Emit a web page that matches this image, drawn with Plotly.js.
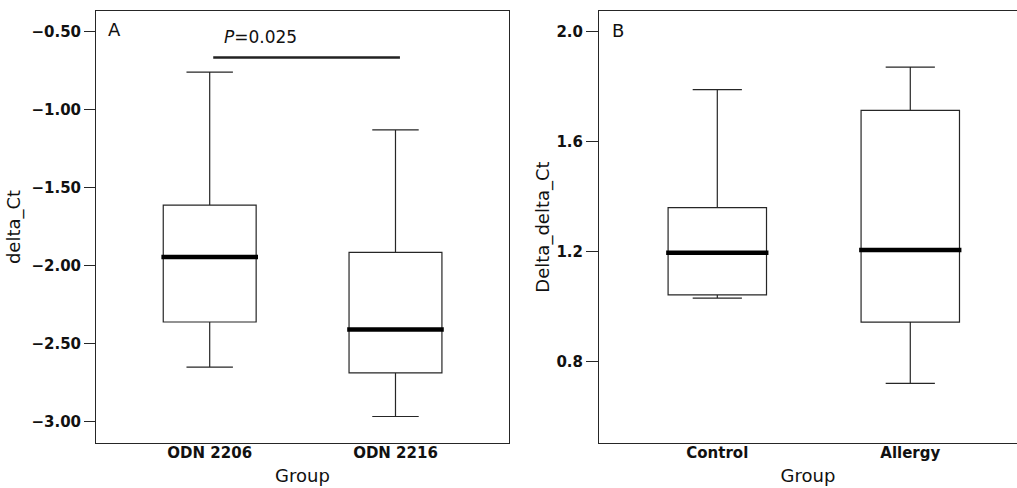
<!DOCTYPE html>
<html>
<head>
<meta charset="utf-8">
<script src="https://cdn.plot.ly/plotly-3.0.1.min.js"></script>
<style>html,body{margin:0;padding:0;background:#fff;overflow:hidden}#chart{width:1017px;height:488px}</style>
</head>
<body>
<div id="chart"></div>
<script>
// Panel A data
const groupsA = ['ODN 2206', 'ODN 2216'];
const upperA = [-0.760, -1.131];
const q3A = [-1.613, -1.916];
const medianA = [-1.946, -2.411];
const q1A = [-2.363, -2.689];
const lowerA = [-2.652, -2.969];
const yTicksA = [-3.0, -2.5, -2.0, -1.5, -1.0, -0.5];
const yTickTextA = ['\u22123.00', '\u22122.50', '\u22122.00', '\u22121.50', '\u22121.00', '\u22120.50'];
const pText = '<i>P</i>=0.025';

// Panel B data
const groupsB = ['Control', 'Allergy'];
const upperB = [1.790, 1.872];
const q3B = [1.361, 1.715];
const medianB = [1.197, 1.207];
const q1B = [1.044, 0.945];
const lowerB = [1.032, 0.722];
const yTicksB = [0.8, 1.2, 1.6, 2.0];
const yTickTextB = ['0.8', '1.2', '1.6', '2.0'];

const W = 1017, H = 488;
const boxW = 0.5;
const lineCol = '#262626';
const tickFont = {family: 'DejaVu Sans', size: 15, weight: 'bold', color: '#111'};
const titleFont = {family: 'DejaVu Sans', size: 18, color: '#111'};

const posA = groupsA.map((g, i) => i);
const posB = groupsB.map((g, i) => i);

function boxTrace(pos, q1, med, q3, lo, hi, xa, ya, w) {
  return {
    type: 'box', x: pos, q1: q1, median: med, q3: q3,
    lowerfence: lo, upperfence: hi,
    width: w, whiskerwidth: 0.5, boxpoints: false,
    fillcolor: '#ffffff', line: {color: lineCol, width: 1.2},
    xaxis: xa, yaxis: ya, hoverinfo: 'skip'
  };
}
function medianTraces(pos, med, xa, ya, w) {
  return pos.map((p, i) => ({
    type: 'scatter', mode: 'lines',
    x: [p - w / 2 - 0.01, p + w / 2 + 0.01], y: [med[i], med[i]],
    line: {color: '#000', width: 4.5}, xaxis: xa, yaxis: ya, hoverinfo: 'skip'
  }));
}

const data = [
  boxTrace(posA, q1A, medianA, q3A, lowerA, upperA, 'x', 'y', boxW),
  boxTrace(posB, q1B, medianB, q3B, lowerB, upperB, 'x2', 'y2', 0.51),
  ...medianTraces(posA, medianA, 'x', 'y', boxW),
  ...medianTraces(posB, medianB, 'x2', 'y2', 0.51)
];

const sigY = -0.666, sigX0 = 0.019, sigX1 = 1.024;

const layout = {
  width: W, height: H,
  margin: {l: 0, r: 0, t: 11, b: 45},
  paper_bgcolor: '#fff', plot_bgcolor: '#fff',
  showlegend: false,
  xaxis: {
    domain: [96 / W, 509 / W], range: [-0.612, 1.611],
    tickvals: posA, ticktext: groupsA, ticks: '', ticklabelstandoff: -4,
    showgrid: false, zeroline: false,
    showline: true, linecolor: lineCol, linewidth: 1, mirror: true,
    tickfont: tickFont,
    title: {text: 'Group', font: titleFont, standoff: 8}
  },
  yaxis: {
    domain: [0, 1], range: [-3.139, -0.368], anchor: 'x',
    tickvals: yTicksA, ticktext: yTickTextA, ticks: 'outside', ticklen: 11,
    tickcolor: lineCol, tickwidth: 1,
    showgrid: false, zeroline: false,
    showline: true, linecolor: lineCol, linewidth: 1, mirror: true,
    tickfont: tickFont,
    title: {text: 'delta_Ct', font: titleFont, standoff: 6}
  },
  xaxis2: {
    domain: [599 / W, 1], range: [-0.613, 1.553], anchor: 'y2',
    tickvals: posB, ticktext: groupsB, ticks: '', ticklabelstandoff: -4,
    showgrid: false, zeroline: false,
    showline: true, linecolor: lineCol, linewidth: 1, mirror: true,
    tickfont: tickFont,
    title: {text: 'Group', font: titleFont, standoff: 8}
  },
  yaxis2: {
    domain: [0, 1], range: [0.5055, 2.076], anchor: 'x2',
    tickvals: yTicksB, ticktext: yTickTextB, ticks: 'outside', ticklen: 12,
    tickcolor: lineCol, tickwidth: 1,
    showgrid: false, zeroline: false,
    showline: true, linecolor: lineCol, linewidth: 1, mirror: false,
    tickfont: tickFont,
    title: {text: 'Delta_delta_Ct', font: titleFont, standoff: 2}
  },
  shapes: [
    {type: 'line', xref: 'x', yref: 'y', x0: sigX0, x1: sigX1, y0: sigY, y1: sigY,
     line: {color: '#222', width: 2.5}}
  ],
  annotations: [
    {text: pText, xref: 'x', yref: 'y', x: 0.271, y: -0.537, showarrow: false,
     xanchor: 'center', yanchor: 'middle', font: {family: 'DejaVu Sans', size: 17, color: '#111'}},
    {text: 'A', xref: 'paper', yref: 'paper', x: 106 / W, y: (488 - 45 - 30 + 11) / 432 - 11/432, showarrow: false,
     xanchor: 'left', yanchor: 'middle', font: {family: 'DejaVu Sans', size: 18, color: '#111'}},
    {text: 'B', xref: 'paper', yref: 'paper', x: 610 / W, y: (488 - 45 - 31 + 11) / 432 - 11/432, showarrow: false,
     xanchor: 'left', yanchor: 'middle', font: {family: 'DejaVu Sans', size: 18, color: '#111'}}
  ]
};

Plotly.newPlot('chart', data, layout, {staticPlot: true, displayModeBar: false});
</script>
</body>
</html>
